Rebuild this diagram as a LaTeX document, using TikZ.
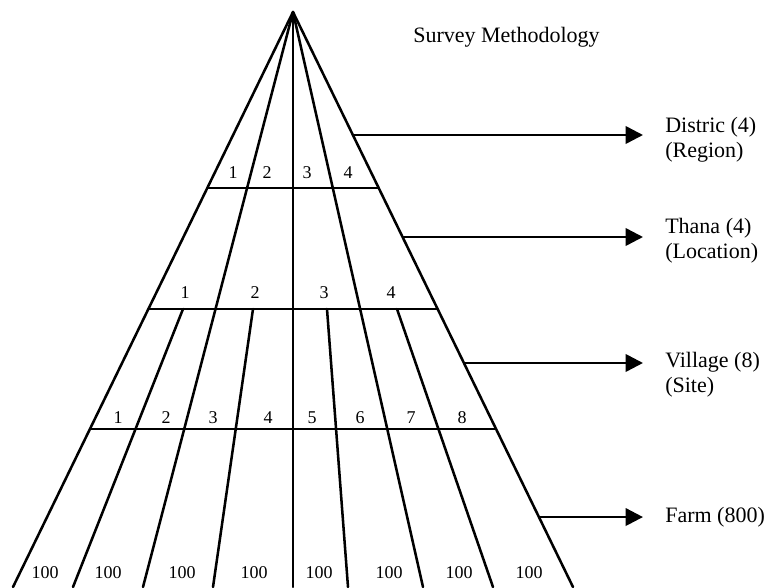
\documentclass[tikz,border=0pt]{standalone}
\usepackage{fontspec}
\setmainfont{Liberation Serif}
\usetikzlibrary{arrows.meta,calc}

\tikzset{
    edge/.style={line width=1.9pt, line cap=round},
    numlab/.style={anchor=base, inner sep=0pt, font=\fontsize{13.5}{16}\selectfont},
    levlab/.style={anchor=base west, inner sep=0pt, align=left, font=\fontsize{16.5}{18.75}\selectfont},
    pointer/.style={line width=1.9pt, -{Triangle[length=13pt,width=13pt]}, shorten >=16.5pt}
}

\newcommand\cellnum[4]{
    \node[numlab] (#1) at (#2,#3) {#4};
}
\newcommand\levline[1]{
    \draw[edge] ($(apex)!#1!(bl)$) -- ($(apex)!#1!(br)$);
}

\begin{document}
\begin{tikzpicture}[x=0.75pt, y=-0.75pt]
    \useasboundingbox (0,0) rectangle (771,587);

    \coordinate (apex) at (293,12);
    \coordinate (bl) at (13,587);
    \coordinate (br) at (573,587);

    % lines from the apex
    \draw[edge] (apex) -- (bl);
    \draw[edge] (apex) -- (143,587);
    \draw[edge] (apex) -- (293,587);
    \draw[edge] (apex) -- (423,587);
    \draw[edge] (apex) -- (br);

    % lines from the thana level
    \draw[edge] (183,309) -- (73,587);
    \draw[edge] (253,309) -- (213,587);
    \draw[edge] (327,309) -- (348,587);
    \draw[edge] (397,309) -- (493,587);

    % levels
    \levline{0.306}
    \levline{0.5165}
    \levline{0.725}

    \cellnum{d1}{233}{178}{1}
    \cellnum{d2}{267}{178}{2}
    \cellnum{d3}{307}{178}{3}
    \cellnum{d4}{348}{178}{4}

    \cellnum{t1}{185}{298}{1}
    \cellnum{t2}{255}{298}{2}
    \cellnum{t3}{324}{298}{3}
    \cellnum{t4}{391}{298}{4}

    \cellnum{v1}{118}{423}{1}
    \cellnum{v2}{166}{423}{2}
    \cellnum{v3}{213}{423}{3}
    \cellnum{v4}{268}{423}{4}
    \cellnum{v5}{312}{423}{5}
    \cellnum{v6}{360}{423}{6}
    \cellnum{v7}{411}{423}{7}
    \cellnum{v8}{462}{423}{8}

    \cellnum{f1}{45}{578}{100}
    \cellnum{f2}{108}{578}{100}
    \cellnum{f3}{182}{578}{100}
    \cellnum{f4}{254}{578}{100}
    \cellnum{f5}{319}{578}{100}
    \cellnum{f6}{389}{578}{100}
    \cellnum{f7}{459}{578}{100}
    \cellnum{f8}{529}{578}{100}

    % titles on the right
    \node[levlab] (title) at (413,42) {Survey Methodology};
    \node[levlab] (dist) at (665,157) {Distric (4)\\(Region)};
    \node[levlab] (thana) at (665,258) {Thana (4)\\(Location)};
    \node[levlab] (vill) at (665,392) {Village (8)\\(Site)};
    \node[levlab] (farm) at (665,522) {Farm (800)};

    \coordinate (e1) at ($(apex)!0.2139!(br)$);
    \coordinate (e2) at ($(apex)!0.3913!(br)$);
    \coordinate (e3) at ($(apex)!0.6104!(br)$);
    \coordinate (e4) at ($(apex)!0.8783!(br)$);

    \draw[pointer] (e1) -- (e1 -| dist.west);
    \draw[pointer] (e2) -- (e2 -| thana.west);
    \draw[pointer] (e3) -- (e3 -| vill.west);
    \draw[pointer] (e4) -- (e4 -| farm.west);
\end{tikzpicture}
\end{document}
